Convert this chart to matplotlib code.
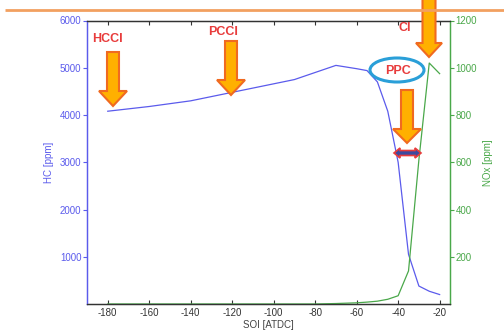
"""HC and NOx versus start of injection, with combustion mode markers."""

import matplotlib

matplotlib.use("Agg", force=True)
import matplotlib.pyplot as plt
from matplotlib.patches import Ellipse, Polygon

plt.rcParams["font.family"] = ["Liberation Sans", "DejaVu Sans"]
plt.rcParams["axes.unicode_minus"] = False

# data
soi = [-180, -160, -140, -120, -100, -90, -80, -70, -60, -55, -50, -45, -40, -35, -30, -25, -20]
hc = [4080, 4180, 4300, 4480, 4660, 4750, 4900, 5050, 4980, 4940, 4700, 4080, 3000, 1050, 380, 270, 200]
nox = [0, 0, 0, 0, 0, 0, 0, 2, 5, 8, 12, 20, 35, 140, 610, 1020, 975]

hc_ticks = [1000, 2000, 3000, 4000, 5000, 6000]
nox_ticks = [200, 400, 600, 800, 1000, 1200]
soi_ticks = [-180, -160, -140, -120, -100, -80, -60, -40, -20]

HC_COLOR = "#5b5bec"
NOX_COLOR = "#4aa84a"
TEXT_RED = "#e83c3c"
ARROW_FILL = "#ffb000"
ARROW_EDGE = "#f06a20"

W, H = 504, 330
fig = plt.figure(figsize=(W / 100, H / 100), dpi=100)

left, right, top, bottom = 87, 450, 20.5, 304
ax = fig.add_axes([left / W, 1 - bottom / H, (right - left) / W, (bottom - top) / H])
ax2 = ax.twinx()

ax.plot(soi, hc, color=HC_COLOR, linewidth=0.9)
ax2.plot(soi, nox, color=NOX_COLOR, linewidth=0.9)

ax.set_xlim(-190, -15)
ax.set_ylim(0, 6000)
ax2.set_ylim(0, 1200)

ax.set_xticks(soi_ticks)
ax.set_yticks(hc_ticks)
ax2.set_yticks(nox_ticks)

ax.tick_params(axis="x", direction="in", top=True, length=3, labelsize=7, colors="#333333", pad=3)
ax.tick_params(axis="y", direction="out", length=3, labelsize=7, colors=HC_COLOR, pad=1)
ax2.tick_params(axis="y", direction="out", length=3, labelsize=7, colors=NOX_COLOR, pad=1)

ax.set_xlabel("SOI [ATDC]", fontsize=7, color="#444444", labelpad=1)
ax.set_ylabel("HC [ppm]", fontsize=7, color=HC_COLOR, labelpad=4)
ax2.set_ylabel("NOx [ppm]", fontsize=7, color=NOX_COLOR, labelpad=4)

for a in (ax, ax2):
    a.spines["top"].set_color("#333333")
    a.spines["bottom"].set_color("#333333")
    a.spines["left"].set_color(HC_COLOR)
    a.spines["right"].set_color(NOX_COLOR)
    for s in a.spines.values():
        s.set_linewidth(0.9)

# overlay in pixel coordinates for the annotations
ov = fig.add_axes([0, 0, 1, 1], zorder=5)
ov.set_xlim(0, W)
ov.set_ylim(H, 0)
ov.axis("off")
ov.patch.set_alpha(0)

ov.plot([5, W], [10, 10], color="#f2a060", linewidth=2, solid_capstyle="butt")


def down_arrow(x, y0, y_tip, shaft=12, head=28, head_len=15):
    yb = y_tip - head_len
    pts = [
        (x - shaft / 2, y0), (x + shaft / 2, y0), (x + shaft / 2, yb),
        (x + head / 2, yb), (x, y_tip), (x - head / 2, yb), (x - shaft / 2, yb),
    ]
    ov.add_patch(Polygon(pts, closed=True, facecolor=ARROW_FILL, edgecolor=ARROW_EDGE,
                         linewidth=1.5, joinstyle="miter"))


down_arrow(113, 52, 106)
down_arrow(231, 41, 95)
down_arrow(429, -5, 57, shaft=13, head=26, head_len=14)
down_arrow(407, 90, 143, shaft=12, head=28, head_len=14)

# double-headed arrow between PPC limits
x0, x1, yc, hh, hw, hl = 394, 421, 153, 2.5, 5, 6
dbl = [
    (x0, yc), (x0 + hl, yc - hw), (x0 + hl, yc - hh), (x1 - hl, yc - hh), (x1 - hl, yc - hw),
    (x1, yc), (x1 - hl, yc + hw), (x1 - hl, yc + hh), (x0 + hl, yc + hh), (x0 + hl, yc + hw),
]
ov.add_patch(Polygon(dbl, closed=True, facecolor="#3c4aa0", edgecolor=TEXT_RED, linewidth=1.2))

ov.add_patch(Ellipse((397, 70), 54, 24, facecolor="white", edgecolor="#2a9fd8", linewidth=2.2))

label_kw = dict(color=TEXT_RED, fontsize=9, fontweight="bold", ha="center", va="center")
ov.text(107, 39, "HCCI", **label_kw)
ov.text(223, 32, "PCCI", **label_kw)
ov.text(405, 28, "CI", **label_kw)
ov.text(398, 71, "PPC", **label_kw)

fig.savefig("out.png", dpi=100)
